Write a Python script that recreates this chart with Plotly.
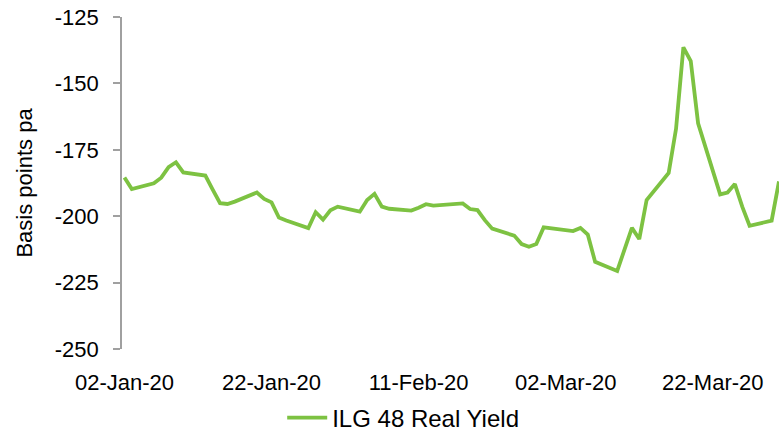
import plotly.graph_objects as go

dates = [
    "2020-01-02", "2020-01-03", "2020-01-06", "2020-01-07", "2020-01-08", "2020-01-09", "2020-01-10",
    "2020-01-13", "2020-01-14", "2020-01-15", "2020-01-16", "2020-01-17", "2020-01-20", "2020-01-21",
    "2020-01-22", "2020-01-23", "2020-01-24", "2020-01-27", "2020-01-28", "2020-01-29", "2020-01-30",
    "2020-01-31", "2020-02-03", "2020-02-04", "2020-02-05", "2020-02-06", "2020-02-07", "2020-02-10",
    "2020-02-11", "2020-02-12", "2020-02-13", "2020-02-14", "2020-02-17", "2020-02-18", "2020-02-19",
    "2020-02-20", "2020-02-21", "2020-02-24", "2020-02-25", "2020-02-26", "2020-02-27", "2020-02-28",
    "2020-03-02", "2020-03-03", "2020-03-04", "2020-03-05", "2020-03-06", "2020-03-09", "2020-03-10",
    "2020-03-11", "2020-03-12", "2020-03-13", "2020-03-16", "2020-03-17", "2020-03-18", "2020-03-19",
    "2020-03-20", "2020-03-23", "2020-03-24", "2020-03-25", "2020-03-26", "2020-03-27", "2020-03-30",
    "2020-03-31",
]
ilg48_real_yield = [
    -185.4, -189.8, -187.6, -185.5, -181.5, -179.7, -183.5,
    -184.7, -190.0, -195.1, -195.4, -194.5, -191.1, -193.5,
    -194.8, -200.5, -201.6, -204.5, -198.5, -201.3, -197.8,
    -196.4, -198.3, -193.9, -191.6, -196.4, -197.2, -197.9,
    -196.8, -195.5, -196.0, -195.8, -195.2, -197.3, -197.7,
    -201.5, -204.7, -207.3, -210.5, -211.5, -210.5, -204.2,
    -205.3, -205.6, -204.4, -206.9, -217.2, -220.6, -212.5,
    -204.4, -208.6, -193.9, -183.7, -167.1, -136.4, -141.6,
    -165.0, -191.8, -191.1, -187.9, -196.4, -203.6, -201.7,
    -186.9,
]
tick_dates = ["2020-01-02", "2020-01-22", "2020-02-11", "2020-03-02", "2020-03-22"]
tick_labels = ["02-Jan-20", "22-Jan-20", "11-Feb-20", "02-Mar-20", "22-Mar-20"]
y_ticks = [-250, -225, -200, -175, -150, -125]
y_tick_labels = ["-250", "-225", "-200", "-175", "-150", "-125"]

FONT = "Liberation Sans, Arial, sans-serif"

fig = go.Figure()
fig.add_trace(go.Scatter(
    x=dates, y=ilg48_real_yield, mode="lines", name="ILG 48 Real Yield",
    line=dict(color="#7DC242", width=3.8),
))

fig.update_layout(
    width=780, height=442,
    margin=dict(l=122, r=1, t=17, b=93, autoexpand=False),
    paper_bgcolor="white", plot_bgcolor="white",
    font=dict(family=FONT, size=22, color="black"),
    showlegend=True,
    legend=dict(orientation="h", x=0.428, xanchor="center",
                y=-0.208, yanchor="middle", font=dict(size=24), itemwidth=40),
)
fig.update_xaxes(
    type="date", range=["2020-01-01 16:00", "2020-03-31 00:00"],
    tickvals=tick_dates, ticktext=tick_labels, tickangle=0,
    showgrid=False, zeroline=False, showline=False,
    ticks="", ticklabelstandoff=18,
)
fig.update_yaxes(
    range=[-250, -125], tickvals=y_ticks, ticktext=y_tick_labels,
    showgrid=False, zeroline=False,
    showline=True, linecolor="#A0A0A0", linewidth=1.5,
    ticks="outside", ticklen=7, tickcolor="#A0A0A0", tickwidth=1.5,
    ticklabelstandoff=10,
    title=dict(text="Basis points pa", standoff=16, font=dict(size=22)),
)

fig.write_html("out.html")
